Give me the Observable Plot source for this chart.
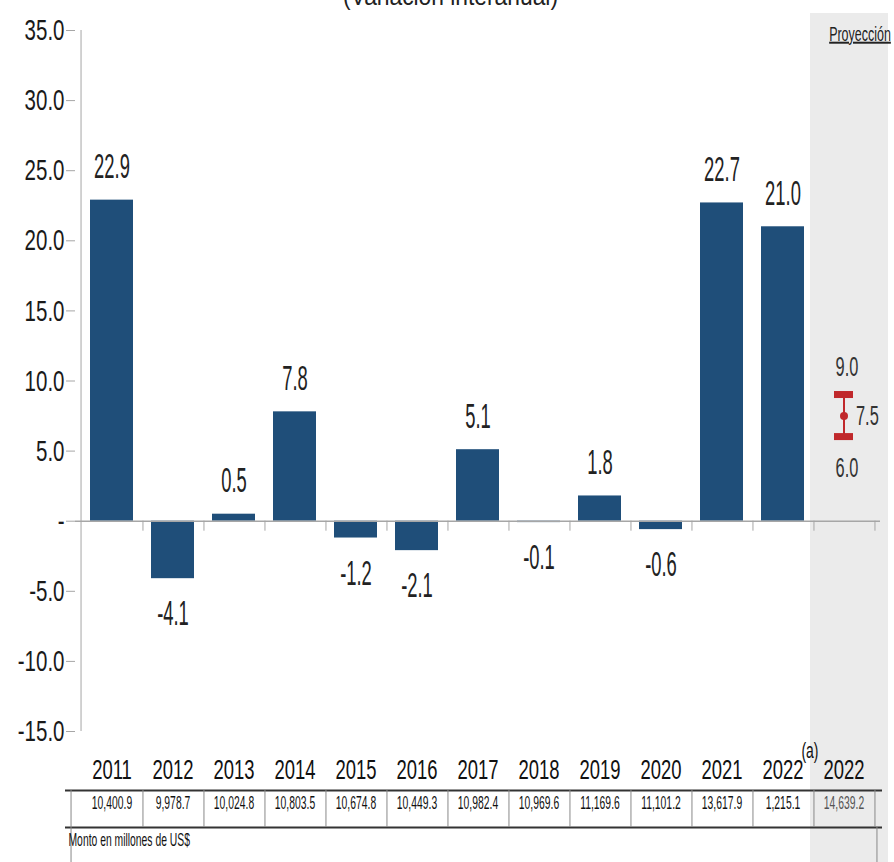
<!DOCTYPE html>
<html><head><meta charset="utf-8">
<script src="https://cdn.jsdelivr.net/npm/d3@7"></script>
<script src="https://cdn.jsdelivr.net/npm/@observablehq/plot@0.6"></script>
<style>html,body{margin:0;padding:0;background:#fff;overflow:hidden}</style>
</head><body><div id="chart"></div>
<script>
const categories = ["2011","2012","2013","2014","2015","2016","2017","2018","2019","2020","2021","2022","2022 P"];
const yearLabels = ["2011","2012","2013","2014","2015","2016","2017","2018","2019","2020","2021","2022","2022"];
const growth = [22.9,-4.1,0.5,7.8,-1.2,-2.1,5.1,-0.1,1.8,-0.6,22.7,21.0];
const amounts = [10400.9,9978.7,10024.8,10803.5,10674.8,10449.3,10982.4,10969.6,11169.6,11101.2,13617.9,1215.1,14639.2];
const projLow = 6.0, projMid = 7.5, projHigh = 9.0;
const yTicks = [-15,-10,-5,0,5,10,15,20,25,30,35];
const titleText = "(Variación interanual)";
const projText = "Proyección";
const captionText = "Monto en millones de US$";
const noteText = "(a)";

const W = 894, H = 862, mL = 75, mR = 14, mT = 30, mB = 131;
const step = (W - mL - mR) / categories.length;
const FONT = "'Liberation Sans',Arial,sans-serif";
const BLUE = "#1f4e79", RED = "#c0282b", GRID = "#a6a6a6";
const projKey = categories[categories.length - 1];

const bars = growth.map((v, i) => ({key: categories[i], value: v}));
const pos = bars.filter(d => d.value >= 0), neg = bars.filter(d => d.value < 0);
const fmtAmt = d3.format(",.1f");

const chart = Plot.plot({
  width: W, height: H,
  marginLeft: mL, marginRight: mR, marginTop: mT, marginBottom: mB,
  style: {fontFamily: FONT, color: "#1a1a1a", background: "#fff"},
  x: {type: "band", domain: categories, paddingInner: 0.29, paddingOuter: 0.145, axis: null},
  y: {domain: [-15, 35], axis: null},
  marks: [
    Plot.barY([projKey], {x: d => d, y1: -15, y2: 35, fill: "#ebebeb",
      insetTop: -(mT - 13), insetBottom: -mB, insetLeft: -12, insetRight: -23}),
    Plot.barY(bars, {x: "key", y: "value", fill: BLUE}),
    Plot.ruleX([categories[0]], {x: d => d, dx: -step / 2, stroke: GRID}),
    Plot.ruleY(yTicks, {y: d => d, insetLeft: -9, insetRight: W - mL - mR, stroke: GRID}),
    Plot.axisY(yTicks, {tickSize: 0, tickPadding: 11, fontSize: 25, label: null,
      tickFormat: d => d === 0 ? "-" : d.toFixed(1)}),
    Plot.ruleY([0], {stroke: GRID, strokeWidth: 1.5}),
    Plot.ruleX(categories, {x: d => d, y1: 0, y2: 0, insetBottom: -10, dx: step / 2, stroke: GRID}),
    Plot.text(pos, {x: "key", y: "value", text: d => d.value.toFixed(1), lineAnchor: "bottom", dy: -22,
      fontSize: 23, fill: "#222", className: "s-val"}),
    Plot.text(neg, {x: "key", y: "value", text: d => d.value.toFixed(1), lineAnchor: "top", dy: 22,
      fontSize: 23, fill: "#222", className: "s-val"}),
    Plot.ruleX([projKey], {x: d => d, y1: projLow, y2: projHigh, stroke: RED, strokeWidth: 2}),
    Plot.barY([projLow, projHigh], {x: () => projKey, y1: d => d, y2: d => d, fill: RED,
      insetTop: -3.5, insetBottom: -3.5, insetLeft: 12, insetRight: 12}),
    Plot.dot([projMid], {x: () => projKey, y: d => d, r: 4, fill: RED}),
    Plot.text([projHigh], {x: () => projKey, y: d => d, text: d => d.toFixed(1), lineAnchor: "bottom", dy: -19,
      dx: 3, fontSize: 21, fill: "#333", className: "s-proj"}),
    Plot.text([projLow], {x: () => projKey, y: d => d, text: d => d.toFixed(1), lineAnchor: "top", dy: 21,
      dx: 3, fontSize: 21, fill: "#333", className: "s-proj"}),
    Plot.text([projMid], {x: () => projKey, y: d => d, text: d => d.toFixed(1), textAnchor: "start", dx: 12,
      fontSize: 21, fill: "#333", className: "s-proj"}),
    Plot.text(categories, {x: d => d, text: (d, i) => yearLabels[i], frameAnchor: "bottom", lineAnchor: "bottom",
      dy: 47, fontSize: 22.5, fill: "#111", className: "s-year"}),
    Plot.text([noteText], {x: () => categories[11], text: d => d, frameAnchor: "bottom", lineAnchor: "bottom",
      dx: 27, dy: 26, fontSize: 17, fill: "#111", className: "s-note"}),
    Plot.ruleY([-15], {y: d => d, dy: 59, insetLeft: -10, insetRight: -2, stroke: "#333", strokeWidth: 2}),
    Plot.ruleY([-15], {y: d => d, dy: 96, insetLeft: -10, insetRight: -2, stroke: "#333", strokeWidth: 2}),
    Plot.ruleX(categories, {x: d => d, dx: step / 2, y1: -15, y2: -15, insetTop: 59, insetBottom: -96, stroke: "#888"}),
    Plot.ruleX([categories[0]], {x: d => d, dx: -step / 2 - 10, y1: -15, y2: -15, insetTop: 59, insetBottom: -mB, stroke: "#888"}),
    Plot.ruleX([projKey], {x: d => d, dx: step / 2 + 2, y1: -15, y2: -15, insetTop: 96, insetBottom: -mB, stroke: "#888"}),
    Plot.text(categories, {x: d => d, text: (d, i) => fmtAmt(amounts[i]), frameAnchor: "bottom",
      dy: 77, fontSize: 14, fill: (d, i) => i === categories.length - 1 ? "#555" : "#111", className: "s-amt"}),
    Plot.text([captionText], {text: d => d, frameAnchor: "bottom-left", textAnchor: "start",
      dx: -7, dy: 114, fontSize: 14, fill: "#111", className: "s-amt"}),
    Plot.text([projText], {x: () => projKey, text: d => d, frameAnchor: "top", lineAnchor: "bottom",
      dx: 16, dy: 10, fontSize: 16, fill: "#222", className: "s-ptitle"}),
    Plot.text([titleText], {text: d => d, frameAnchor: "top", lineAnchor: "bottom",
      dx: -(mL + W - mR) / 2 + 450, dy: -26, fontSize: 24, fill: "#222", className: "s-title"})
  ]
});
document.getElementById("chart").appendChild(chart);

function stretch(sel, sx, sy) {
  chart.querySelectorAll(sel).forEach(t => {
    const tr = t.getAttribute("transform") || "";
    t.setAttribute("transform", tr + ` scale(${sx},${sy})`);
  });
}
stretch('g[aria-label="y-axis tick label"] text', 0.82, 1.2);
stretch(".s-val text", 0.8, 1.5);
stretch(".s-proj text", 0.78, 1.3);
stretch(".s-year text", 0.82, 1.2);
stretch(".s-note text", 0.82, 1.25);
stretch(".s-amt text", 0.74, 1.3);
stretch(".s-ptitle text", 0.78, 1.25);
stretch(".s-title text", 0.95, 1.1);
chart.querySelectorAll(".s-ptitle text").forEach(t => t.style.textDecoration = "underline");
</script>
</body></html>
